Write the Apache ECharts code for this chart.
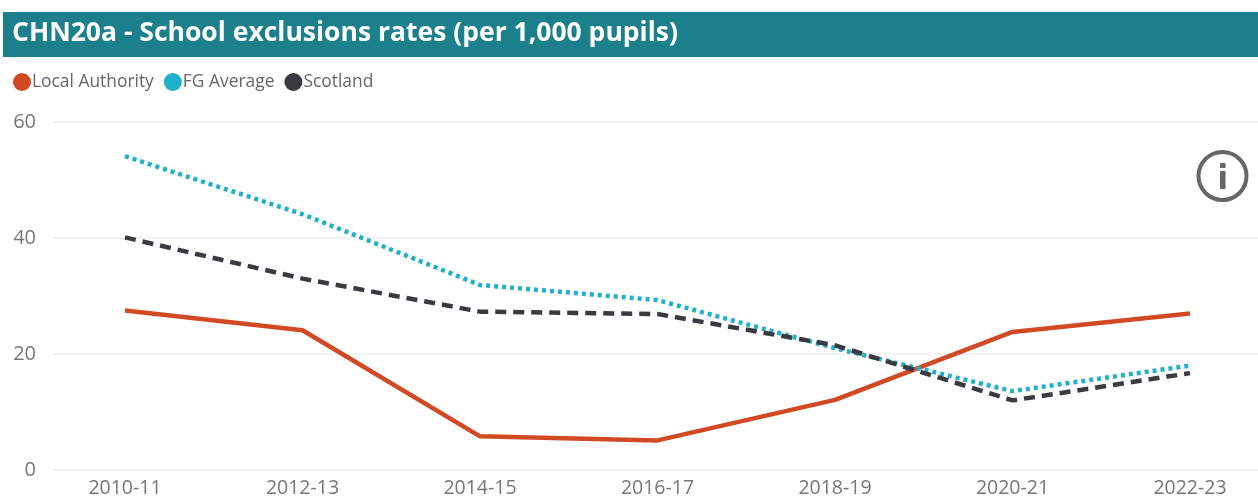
<!DOCTYPE html>
<html><head><meta charset="utf-8">
<style>html,body{margin:0;padding:0;background:#fff}#c{width:1258px;height:500px}</style>
<script src="https://cdn.jsdelivr.net/npm/echarts@6/dist/echarts.min.js"></script>
</head><body><div id="c"></div>
<script>
const categories = ['2010-11','2012-13','2014-15','2016-17','2018-19','2020-21','2022-23'];
const localAuthority = [27.5, 24.1, 5.8, 5.1, 12.1, 23.8, 27.0];
const fgAverage = [54.1, 44.1, 31.9, 29.3, 21.0, 13.6, 18.0];
const scotland = [40.1, 33.0, 27.3, 26.9, 21.5, 12.0, 16.7];
const titleText = 'CHN20a - School exclusions rates (per 1,000 pupils)';
const font = '"Open Sans", "Noto Sans", sans-serif';
const chart = echarts.init(document.getElementById('c'), null, {renderer:'canvas'});
const gray = '#777777';
chart.setOption({
  animation:false,
  backgroundColor:'#fff',
  textStyle:{fontFamily:font},
  legend:{
    left:8, top:68, icon:'circle', itemWidth:20, itemHeight:18, itemGap:10,
    textStyle:{color:'#666', fontSize:17.4, fontFamily:font, padding:[0,0,0,-5]},
    data:['Local Authority','FG Average','Scotland']
  },
  grid:[
    {left:125, top:122, width:1065, height:348, outerBoundsMode:'none'},
    {left:53, top:122, right:0, height:348, outerBoundsMode:'none'}
  ],
  xAxis:[
    {type:'category', gridIndex:0, data:categories, boundaryGap:false,
     axisLine:{show:false}, axisTick:{show:false}, splitLine:{show:false},
     axisLabel:{color:gray, fontSize:19.5, margin:8, fontFamily:font, interval:0, hideOverlap:false, showMinLabel:true, showMaxLabel:true}},
    {type:'category', gridIndex:1, data:categories, show:false}
  ],
  yAxis:[
    {type:'value', gridIndex:0, min:0, max:60, interval:20, show:false},
    {type:'value', gridIndex:1, min:0, max:60, interval:20,
     axisLine:{show:false}, axisTick:{show:false},
     splitLine:{lineStyle:{color:'#efefef', width:1.5}},
     axisLabel:{color:gray, fontSize:20, margin:17, fontFamily:font, padding:[4,0,0,0]}}
  ],
  series:[
    {name:'Local Authority', type:'line', xAxisIndex:0, yAxisIndex:0, data:localAuthority, showSymbol:false, symbol:'none',
     itemStyle:{color:'#D14A24'}, lineStyle:{color:'#D14A24', width:4.5, type:'solid'}},
    {name:'FG Average', type:'line', xAxisIndex:0, yAxisIndex:0, data:fgAverage, showSymbol:false, symbol:'none',
     itemStyle:{color:'#1FB0CC'}, lineStyle:{color:'#1FB0CC', width:4.5, type:[4,4]}},
    {name:'Scotland', type:'line', xAxisIndex:0, yAxisIndex:0, data:scotland, showSymbol:false, symbol:'none',
     itemStyle:{color:'#3A3A40'}, lineStyle:{color:'#3A3A40', width:4.5, type:[11,7]}}
  ],
  graphic:[
    {type:'rect', shape:{x:3,y:12,width:1255,height:45}, style:{fill:'#1B7F8C'}, z:1},
    {type:'text', x:12, y:20, z:2, style:{text:titleText, fill:'#fff', font:'bold 26.5px '+font}},
    {type:'circle', shape:{cx:1222.5,cy:176,r:24}, style:{fill:'none', stroke:'#666', lineWidth:4}, z:3},
    {type:'rect', shape:{x:1220,y:171,width:5.5,height:18}, style:{fill:'#666'}, z:3},
    {type:'rect', shape:{x:1220,y:163,width:5.5,height:5}, style:{fill:'#666'}, z:3}
  ]
});
</script></body></html>
